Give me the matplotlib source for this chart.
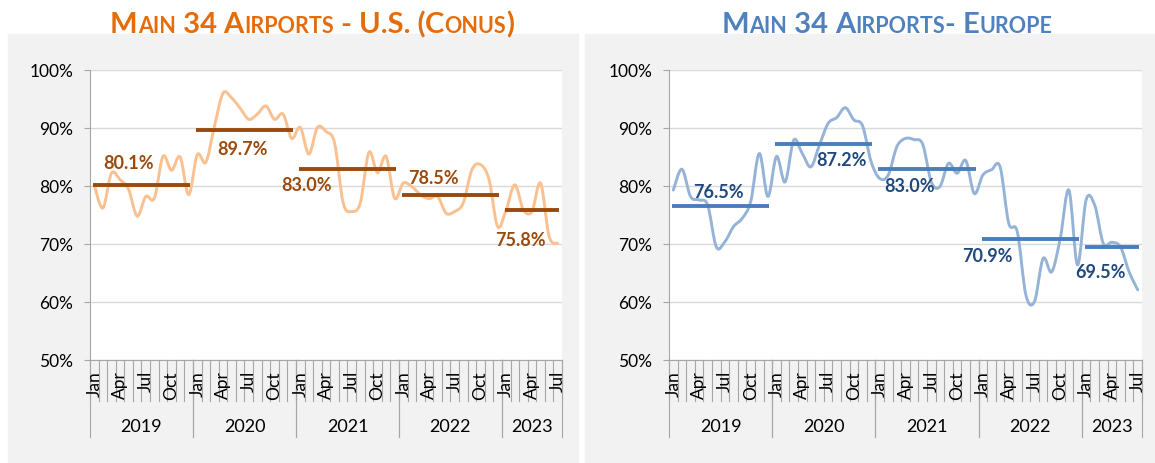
import numpy as np
import matplotlib.pyplot as plt
import matplotlib.ticker as tkr
from matplotlib.path import Path
from matplotlib.patches import PathPatch, Rectangle

plt.rcParams['font.family'] = ['Lato', 'DejaVu Sans']

# ---- data ----
month_names = ['Jan', 'Feb', 'Mar', 'Apr', 'May', 'Jun',
               'Jul', 'Aug', 'Sep', 'Oct', 'Nov', 'Dec']
years = ['2019', '2020', '2021', '2022', '2023']
months_per_year = [12, 12, 12, 12, 7]

us_values = [80.1, 76.2, 82.2, 81.1, 79.4, 74.8, 78.2, 77.9, 85.1, 82.7, 85.0, 78.5,
             85.4, 84.1, 90.3, 96.0, 95.2, 93.4, 91.5, 92.4, 93.8, 91.5, 92.4, 88.2,
             90.1, 85.5, 90.1, 89.4, 87.4, 77.1, 75.6, 77.1, 85.8, 82.3, 85.1, 77.9,
             80.5, 79.9, 78.5, 77.8, 78.2, 75.3, 75.6, 77.1, 82.8, 83.7, 81.1, 73.0,
             75.9, 80.2, 75.9, 75.6, 80.5, 71.3, 70.1]
us_avg = [80.1, 89.7, 83.0, 78.5, 75.8]

eu_values = [79.3, 82.9, 78.2, 77.6, 76.7, 69.5, 70.4, 73.0, 74.4, 77.3, 85.6, 78.2,
             85.1, 80.7, 87.9, 85.6, 83.3, 87.1, 90.8, 91.8, 93.5, 91.4, 90.4, 84.2,
             81.3, 81.9, 86.8, 88.2, 88.0, 87.2, 80.7, 79.9, 83.9, 82.2, 84.4, 78.7,
             81.9, 82.8, 83.3, 73.6, 72.1, 61.2, 60.1, 67.5, 65.2, 71.0, 79.3, 66.4,
             77.6, 76.7, 70.1, 70.3, 69.5, 65.2, 62.1]
eu_avg = [76.5, 87.2, 83.0, 70.9, 69.5]

# label placement (x in month index, y in %)
us_lbl_pos = [(4.0, 84.0), (17.3, 86.5), (24.7, 80.2), (39.5, 81.5), (49.6, 70.8)]
eu_lbl_pos = [(5.3, 79.1), (19.6, 84.5), (27.5, 80.1), (36.5, 68.0), (49.7, 65.2)]

W, H = 1155, 464
fig = plt.figure(figsize=(W / 100, H / 100), dpi=100)
fig.patch.set_facecolor('white')

# grey chart backgrounds
for x0, x1 in [(8, 578), (585, 1155)]:
    fig.patches.append(Rectangle((x0 / W, 0), (x1 - x0) / W, (H - 35) / H,
                                 transform=fig.transFigure, color='#F2F2F2', zorder=-5))


def smooth_path(xs, ys):
    # excel-like smoothed line (catmull-rom as cubic bezier)
    pts = np.column_stack([xs, ys])
    n = len(pts)
    verts = [pts[0]]
    codes = [Path.MOVETO]
    for i in range(n - 1):
        p0 = pts[max(i - 1, 0)]
        p1 = pts[i]
        p2 = pts[i + 1]
        p3 = pts[min(i + 2, n - 1)]
        verts += [p1 + (p2 - p0) / 6, p2 - (p3 - p1) / 6, p2]
        codes += [Path.CURVE4] * 3
    return Path(verts, codes)


def pct(x, pos):
    return '%d%%' % x


def draw_panel(ax, values, avgs, lbl_pos, line_col, avg_col, lbl_col):
    n = len(values)
    x = np.arange(n)
    ax.set_facecolor('white')
    ax.set_xlim(-0.5, n - 0.5)
    ax.set_ylim(50, 100)
    ax.set_yticks(np.arange(50, 101, 10))
    ax.yaxis.set_major_formatter(tkr.FuncFormatter(pct))
    ax.grid(axis='y', color='#D9D9D9', lw=1)
    ax.set_axisbelow(True)
    for s in ['top', 'right']:
        ax.spines[s].set_visible(False)
    for s in ['left', 'bottom']:
        ax.spines[s].set_color('#A6A6A6')
    ax.tick_params(axis='y', length=4, color='#A6A6A6', labelsize=12.5, pad=8,
                   labelcolor='black')
    ax.set_xticks([])

    ax.add_patch(PathPatch(smooth_path(x, values), fill=False, edgecolor=line_col,
                           lw=2.1, capstyle='round', joinstyle='round', zorder=3))

    start = 0
    for k, cnt in enumerate(months_per_year):
        ax.hlines(avgs[k], start - 0.15, start + cnt - 1 + 0.15, color=avg_col,
                  lw=2.8, zorder=4)
        lx, ly = lbl_pos[k]
        ax.text(lx, ly, '%.1f%%' % avgs[k], color=lbl_col, fontsize=13,
                fontweight='bold', ha='center', va='center', zorder=5)
        start += cnt

    # two level category axis
    trans = ax.get_xaxis_transform()
    for b in np.arange(n + 1) - 0.5:
        ax.plot([b, b], [0, -0.141], transform=trans, color='#A6A6A6', lw=0.8,
                clip_on=False)
    start = 0
    for k, cnt in enumerate(months_per_year):
        for b in [start - 0.5, start + cnt - 0.5]:
            ax.plot([b, b], [0, -0.266], transform=trans, color='#A6A6A6', lw=0.8,
                    clip_on=False)
        for m in range(0, cnt, 3):
            ax.text(start + m, -0.035, month_names[m], rotation=90, ha='center',
                    va='top', fontsize=12.5, transform=trans)
        ax.text(start + (cnt - 1) / 2, -0.228, years[k], ha='center', va='center',
                fontsize=13, transform=trans)
        start += cnt


ax1 = fig.add_axes([90 / W, (H - 361) / H, 472 / W, 290 / H])
ax2 = fig.add_axes([669 / W, (H - 361) / H, 473 / W, 290 / H])
draw_panel(ax1, us_values, us_avg, us_lbl_pos, '#FAC090', '#9A4A0C', '#9A4A0C')
draw_panel(ax2, eu_values, eu_avg, eu_lbl_pos, '#95B3D7', '#4A7EBB', '#1F497D')


def small_caps_title(xc, parts, color, big=21, small=15.5):
    renderer = fig.canvas.get_renderer()
    texts = []
    for s, is_big in parts:
        t = fig.text(0, (H - 33) / H, s, fontsize=big if is_big else small,
                     fontweight='bold', color=color, va='baseline', ha='left')
        texts.append(t)
    widths = [t.get_window_extent(renderer).width for t in texts]
    xpix = xc - sum(widths) / 2
    for t, w in zip(texts, widths):
        t.set_x(xpix / W)
        xpix += w


small_caps_title(312, [('M', 1), ('AIN', 0), (' 34 ', 1), ('A', 1), ('IRPORTS', 0),
                       (' - U.S. (', 1), ('C', 1), ('ONUS', 0), (')', 1)], '#E46C0A')
small_caps_title(887, [('M', 1), ('AIN', 0), (' 34 ', 1), ('A', 1), ('IRPORTS', 0),
                       ('- ', 1), ('E', 1), ('UROPE', 0)], '#4F81BD')

fig.savefig('out.png', dpi=100, facecolor='white')
